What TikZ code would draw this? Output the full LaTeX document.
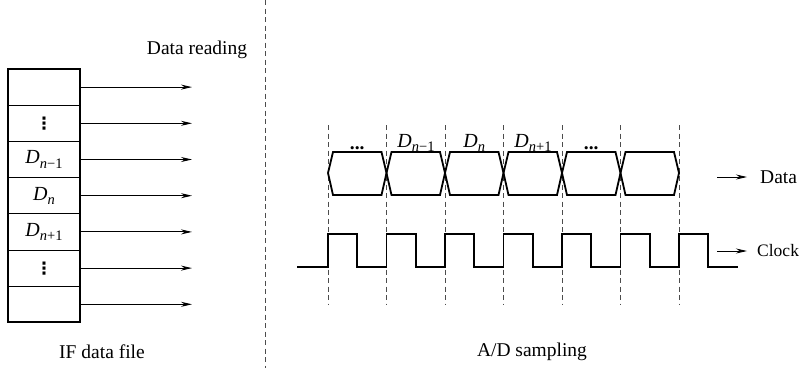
\documentclass[tikz,border=0pt]{standalone}
\usepackage{fontspec}
\setmainfont{Liberation Serif}
\newfontfamily\symfont{DejaVu Sans}
\usetikzlibrary{arrows.meta}
\newcommand{\Dlab}[1]{{\fontsize{20}{22}\selectfont\itshape D}\raisebox{-0.5ex}{\fontsize{14.5}{16}\selectfont #1}}
\newcommand{\vdts}{{\symfont\bfseries\fontsize{17}{18}\selectfont ⋮}}
\begin{document}
\begin{tikzpicture}[x=1pt,y=-1pt,
  every node/.style={font=\fontsize{19.5}{22}\selectfont},
  rowbox/.style={draw, line width=0.8pt, minimum width=72pt, minimum height=36.2pt, inner sep=0pt, outer sep=0pt},
  readarrow/.style={line width=0.9pt, -{Stealth[length=11pt,width=5pt]}},
  guide/.style={line width=0.9pt, dash pattern=on 5pt off 3.5pt, gray!60!black},
  wave/.style={line width=1.8pt, line join=miter},
]
\path[use as bounding box] (0,0) rectangle (800,368);

% left separator
\draw[guide] (265,0) -- (265,368);

% IF data file box
\foreach \i/\t in {1/{},2/{\vdts},3/{\Dlab{\itshape n\upshape −1}},4/{\Dlab{\itshape n}},5/{\Dlab{\itshape n\upshape +1}},6/{\vdts},7/{}} {
  \node[rowbox] (r\i) at (44,{69+36.2*(\i-0.5)}) {\t};
  \coordinate (a\i) at (192,{69+36.2*(\i-0.5)});
  \draw[readarrow] (r\i.east) -- (a\i);
}
\draw[line width=2pt] (r1.north west) rectangle (r7.south east);

\node (reading) at (197,50) {Data reading};
\node (iffile) at (102,352) {IF data file};
\node (adsamp) at (532,352) {A/D sampling};

% dashed sampling lines
\foreach \i in {0,...,6} {
  \coordinate (t\i) at ({328+58.5*\i},125);
  \coordinate (b\i) at ({328+58.5*\i},305);
  \draw[guide] (t\i) -- (b\i);
}

% data hexagons
\foreach \i in {0,...,5} {
  \pgfmathsetmacro{\xa}{328+58.5*\i}
  \pgfmathsetmacro{\xb}{328+58.5*(\i+1)}
  \draw[wave] (\xa,173) -- (\xa+5,152) -- (\xb-5,152) -- (\xb,173) -- (\xb-5,195) -- (\xa+5,195) -- cycle;
}

% labels over data cells
\node (c1) at (357.25,148) {\textbf{...}};
\node (c2) at (416,143) {\Dlab{\itshape n\upshape −1}};
\node (c3) at (474.25,143) {\Dlab{\itshape n}};
\node (c4) at (533,143) {\Dlab{\itshape n\upshape +1}};
\node (c5) at (591.25,148) {\textbf{...}};

% clock
\draw[wave] (297,267) -- (328,267)
  \foreach \i in {0,...,6} {
    -- ({328+58.5*\i},267) -- ({328+58.5*\i},234) -- ({328+58.5*\i+29.25},234) -- ({328+58.5*\i+29.25},267)
  } -- (738,267);

% outputs
\coordinate (ds) at (717,177);
\coordinate (de) at (747,177);
\draw[readarrow] (ds) -- (de);
\node[anchor=west, inner sep=0pt] (datalab) at (760,177) {Data};
\coordinate (cs) at (717,251);
\coordinate (ce) at (747,251);
\draw[readarrow] (cs) -- (ce);
\node[anchor=west, inner sep=0pt, font=\fontsize{17.5}{20}\selectfont] (clocklab) at (757,251) {Clock};
\end{tikzpicture}
\end{document}
